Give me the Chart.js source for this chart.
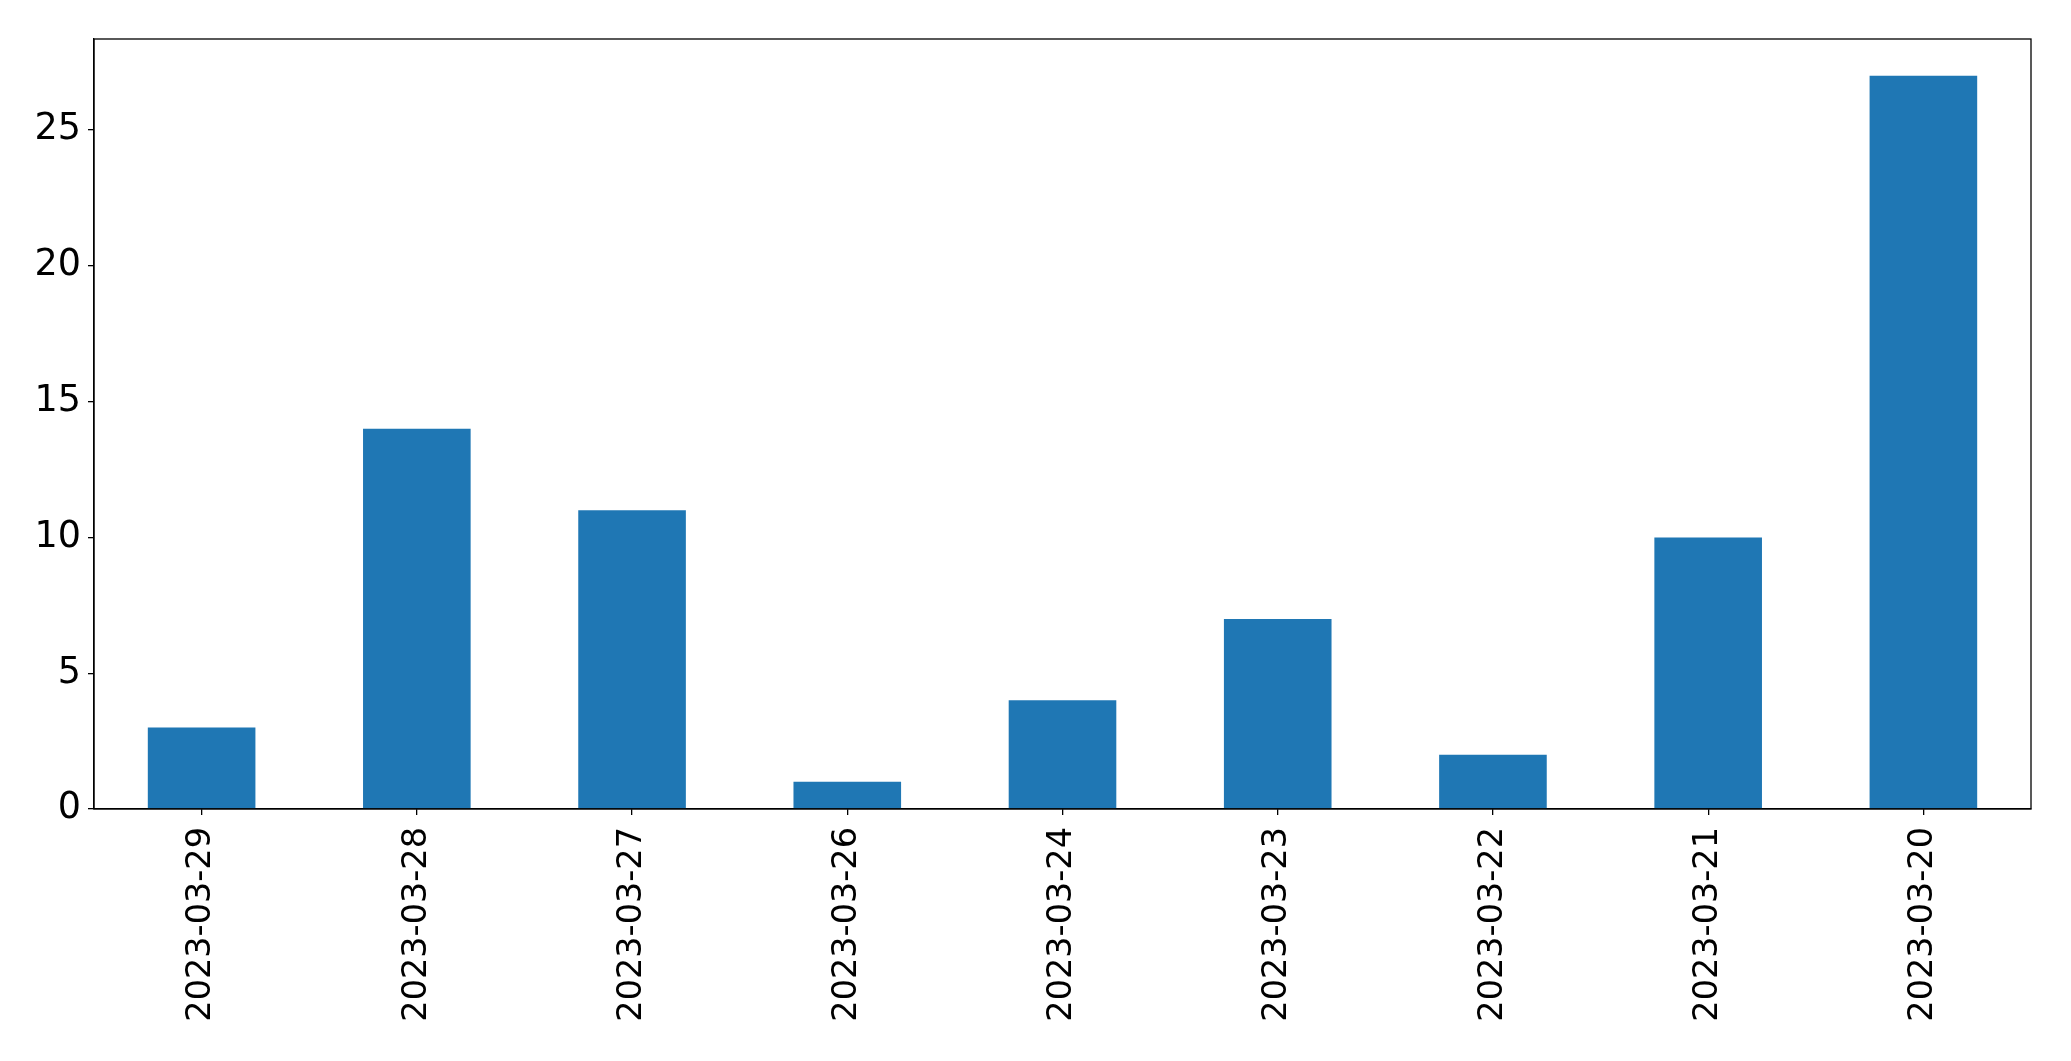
<!DOCTYPE html>
<html>
<head>
<meta charset="utf-8">
<script src="https://cdn.jsdelivr.net/npm/chart.js@4/dist/chart.umd.min.js"></script>
<style>
  html, body { margin: 0; padding: 0; background: #fff; }
  #wrap { width: 2071px; height: 1061px; }
</style>
</head>
<body>
<div id="wrap"><canvas id="chart" width="2071" height="1061"></canvas></div>
<script>
const dates = ['2023-03-29', '2023-03-28', '2023-03-27', '2023-03-26', '2023-03-24',
               '2023-03-23', '2023-03-22', '2023-03-21', '2023-03-20'];
const counts = [3, 14, 11, 1, 4, 7, 2, 10, 27];
const yTicks = [0, 5, 10, 15, 20, 25];

const FAMILY = '"DejaVu Sans", sans-serif';

// full box round the plot, like matplotlib's spines
const frame = {
  id: 'frame',
  afterDraw(chart) {
    const { ctx, chartArea: a } = chart;
    ctx.save();
    ctx.strokeStyle = '#000';
    ctx.lineWidth = 1.3;
    ctx.strokeRect(a.left, a.top, a.right - a.left, a.bottom - a.top);
    ctx.restore();
  },
};

new Chart(document.getElementById('chart'), {
  type: 'bar',
  data: {
    labels: dates,
    datasets: [{
      data: counts,
      backgroundColor: '#1f77b4',
      barPercentage: 0.5,
      categoryPercentage: 1.0,
    }],
  },
  options: {
    responsive: false,
    animation: false,
    layout: { padding: { left: 0, top: 39, right: 40, bottom: 0 } },
    plugins: { legend: { display: false }, tooltip: { enabled: false } },
    scales: {
      x: {
        grid: { display: true, offset: false, drawOnChartArea: false, drawTicks: true, tickLength: 6, color: '#000', lineWidth: 1.3 },
        border: { display: true, color: '#000', width: 1.3 },
        ticks: { color: '#000', font: { family: FAMILY, size: 33.5 }, minRotation: 90, maxRotation: 90, padding: 12, autoSkip: false },
        afterFit(scale) { scale.height = 252; },
      },
      y: {
        min: 0,
        max: 28.35,
        grid: { display: true, drawOnChartArea: false, drawTicks: true, tickLength: 6, color: '#000', lineWidth: 1.3 },
        border: { display: true, color: '#000', width: 1.3 },
        ticks: { color: '#000', font: { family: FAMILY, size: 36.5 }, stepSize: 5, includeBounds: false, padding: 7 },
        afterBuildTicks(scale) { scale.ticks = yTicks.map(v => ({ value: v })); },
        afterFit(scale) { scale.width = 94; },
      },
    },
  },
  plugins: [frame],
});
</script>
</body>
</html>
